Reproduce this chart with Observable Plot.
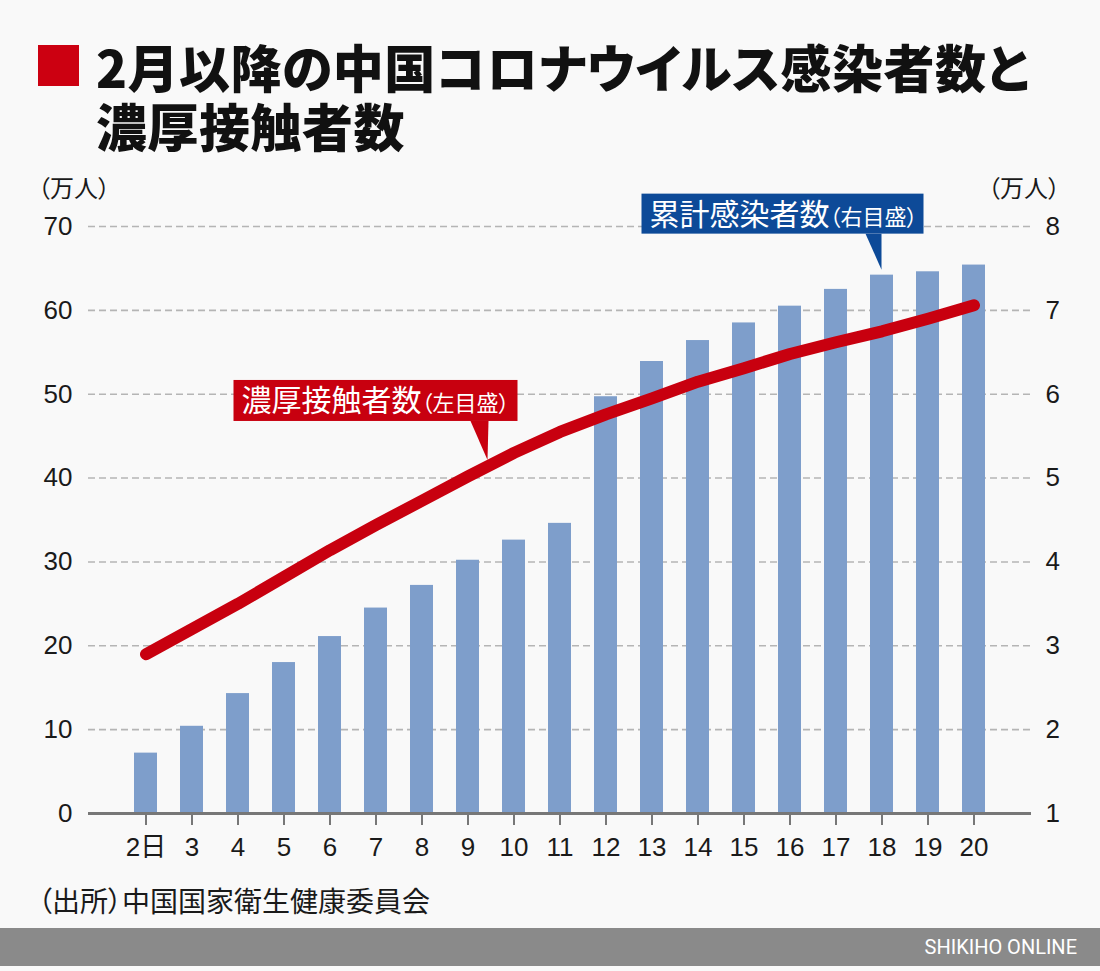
<!DOCTYPE html>
<html><head><meta charset="utf-8">
<script src="https://cdn.jsdelivr.net/npm/d3@7"></script>
<script src="https://cdn.jsdelivr.net/npm/@observablehq/plot@0.6"></script>
<style>
body{margin:0;background:#f9f9f9;}
#wrap{position:relative;width:1100px;height:971px;background:#f9f9f9;overflow:hidden;font-family:'Noto Sans CJK JP','Noto Sans',sans-serif;color:#1a1a1a;}
.abs{position:absolute;white-space:nowrap;font-feature-settings:'palt';}
.ttl{font-size:51px;line-height:58px;height:58px;font-weight:900;letter-spacing:0.5px;color:#111;}
#chart{position:absolute;left:0;top:170px;}
</style></head><body><div id="wrap">
<div class="abs" style="left:38px;top:45px;width:41px;height:41px;background:#cc0011;"></div>
<div class="abs ttl" style="left:96px;top:37px;">2月以降の中国コロナウイルス感染者数と</div>
<div class="abs ttl" style="left:96px;top:96px;">濃厚接触者数</div>
<div class="abs" style="left:38px;top:175px;font-size:24px;line-height:24px;">（万人）</div>
<div class="abs" style="left:988px;top:175px;font-size:24px;line-height:24px;">（万人）</div>
<div id="chart"></div>
<div class="abs" style="left:38px;top:886px;font-size:28px;line-height:28px;">（出所）中国国家衛生健康委員会</div>
<div class="abs" style="left:0;top:928px;width:1100px;height:38px;background:#8a8a8a;"></div>
<div class="abs" style="right:23px;top:936px;font-size:20px;line-height:22px;color:#fff;font-family:'Liberation Sans Narrow','Roboto',sans-serif;">SHIKIHO ONLINE</div>
</div>
<script>
// 日付ラベル
const days = ["2日","3","4","5","6","7","8","9","10","11","12","13","14","15","16","17","18","19","20"];
// 累計感染者数（万人, 右目盛）
const infections = [1.72, 2.04, 2.43, 2.80, 3.11, 3.45, 3.72, 4.02, 4.26, 4.46, 5.97, 6.39, 6.64, 6.85, 7.05, 7.25, 7.42, 7.46, 7.54];
// 濃厚接触者数（万人, 左目盛）
const contacts = [19.0, 22.0, 25.0, 28.2, 31.4, 34.4, 37.3, 40.2, 43.0, 45.5, 47.6, 49.5, 51.5, 53.1, 54.8, 56.2, 57.5, 59.0, 60.6];
// 目盛
const leftTicks = [0, 10, 20, 30, 40, 50, 60, 70];
const rightTicks = [1, 2, 3, 4, 5, 6, 7, 8];

const rMin = rightTicks[0], rMax = rightTicks[rightTicks.length - 1];
const lMax = leftTicks[leftTicks.length - 1];
const toLeft = v => (v - rMin) * lMax / (rMax - rMin);

const table = days.map((d, i) => ({day: d, inf: toLeft(infections[i]), con: contacts[i]}));

function callout({x, y, dx = 0, dy = 0, box, tri, fill, main, sub}) {
  return (index, scales) => {
    const sx = scales.x, sy = scales.y;
    let bw = 0;
    if (sx.bandwidth != null) bw = typeof sx.bandwidth === "function" ? sx.bandwidth() : sx.bandwidth;
    const tx = sx(x) + bw / 2 + dx, ty = sy(y) + dy;
    const g = d3.create("svg:g");
    g.append("rect").attr("x", tx + box[0]).attr("y", ty + box[1])
      .attr("width", box[2] - box[0]).attr("height", box[3] - box[1]).attr("fill", fill);
    g.append("path").attr("d", "M" + tri.map(p => (tx + p[0]) + "," + (ty + p[1])).join("L") + "Z").attr("fill", fill);
    const t = g.append("text").attr("x", tx + box[0] + 8).attr("y", ty + (box[1] + box[3]) / 2 + 11)
      .attr("text-anchor", "start")
      .attr("fill", "#fff").style("font-family", "'Noto Sans CJK JP',sans-serif")
      .style("font-feature-settings", "'palt'");
    t.append("tspan").attr("font-size", 30).text(main);
    t.append("tspan").attr("font-size", 22).text(sub);
    return g.node();
  };
}

const plot = Plot.plot({
  width: 1100,
  height: 700,
  marginTop: 56,
  marginBottom: 57,
  marginLeft: 88,
  marginRight: 69,
  style: {background: "transparent", fontFamily: "'Liberation Sans','Noto Sans CJK JP',sans-serif", fontSize: "26px", color: "#1a1a1a", overflow: "visible"},
  x: {type: "band", domain: days, paddingInner: 0.51, paddingOuter: 0.9, label: null},
  y: {domain: [0, lMax], label: null},
  marks: [
    Plot.gridY(leftTicks.filter(d => d > 0), {stroke: "#b5b5b5", strokeOpacity: 1, strokeWidth: 1.6, strokeDasharray: "7,4"}),
    Plot.barY(table, {x: "day", y: "inf", fill: "#7e9ecb"}),
    Plot.ruleY([0], {stroke: "#777", strokeWidth: 3}),
    Plot.axisX({tickSize: 12, tickPadding: 12, stroke: "#777", strokeWidth: 2, fontSize: 26, label: null}),
    Plot.axisY(leftTicks, {anchor: "left", tickSize: 0, tickPadding: 16, fontSize: 26, label: null}),
    Plot.axisY(leftTicks, {anchor: "right", tickSize: 0, tickPadding: 14, fontSize: 26, label: null, tickFormat: (d, i) => String(rightTicks[i])}),
    Plot.lineY(table, {x: "day", y: "con", stroke: "#c8000f", strokeWidth: 12, strokeLinecap: "round", strokeLinejoin: "round"}),
    callout({x: "9", y: 42.1, dx: 20, box: [-254, -80, 30, -39], tri: [[-17, -39], [1, -39], [0, 0]], fill: "#c8000f", main: "濃厚接触者数", sub: "（左目盛）"}),
    callout({x: "18", y: toLeft(infections[16]), dy: -5, box: [-240, -76, 42, -36], tri: [[-16, -36], [0, -36], [0, 0]], fill: "#0d4a98", main: "累計感染者数", sub: "（右目盛）"})
  ]
});
document.getElementById("chart").appendChild(plot);
</script>
</body></html>
